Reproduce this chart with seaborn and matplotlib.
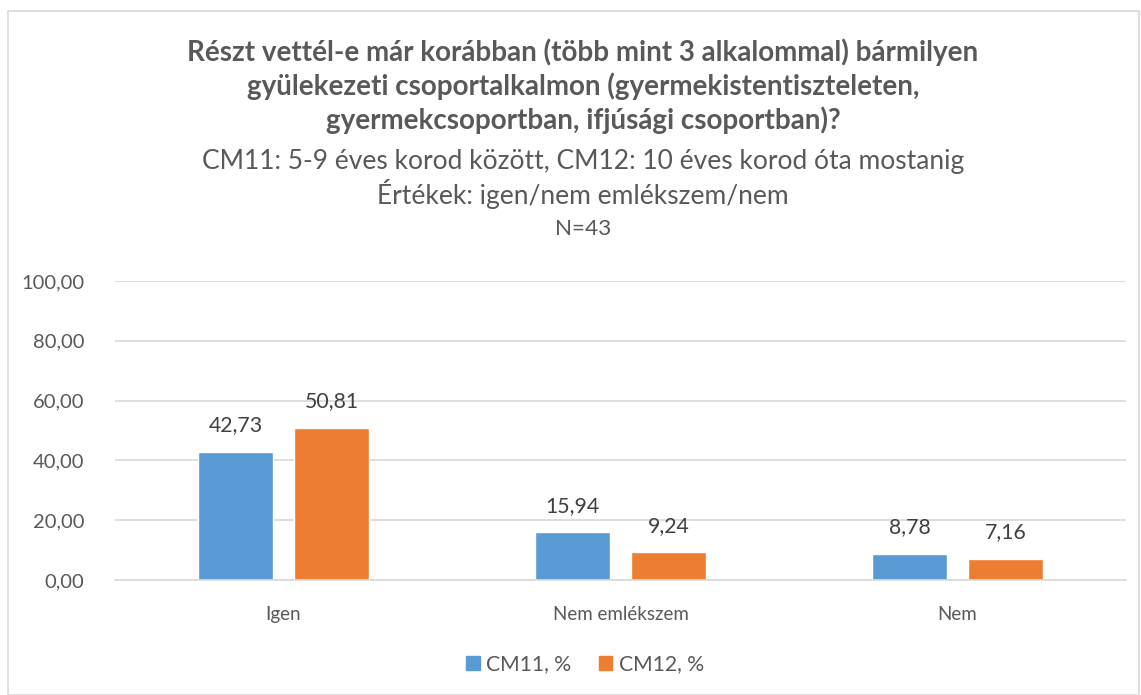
import matplotlib
matplotlib.use("Agg")
import matplotlib.pyplot as plt
import seaborn as sns
import pandas as pd
from matplotlib.patches import Rectangle

categories = ["Igen", "Nem emlékszem", "Nem"]
series_names = ["CM11, %", "CM12, %"]
cm11 = [42.73, 15.94, 8.78]
cm12 = [50.81, 9.24, 7.16]
y_ticks = [0, 20, 40, 60, 80, 100]

title_lines = [
    "Részt vettél-e már korábban (több mint 3 alkalommal) bármilyen",
    "gyülekezeti csoportalkalmon (gyermekistentiszteleten,",
    "gyermekcsoportban, ifjúsági csoportban)?",
]
subtitle_lines = [
    "CM11: 5-9 éves korod között, CM12: 10 éves korod óta mostanig",
    "Értékek: igen/nem emlékszem/nem",
    "N=43",
]

df = pd.DataFrame({
    "cat": categories * 2,
    "series": [series_names[0]] * 3 + [series_names[1]] * 3,
    "val": cm11 + cm12,
})

sns.set_theme(style="white")
plt.rcParams["font.family"] = ["Lato", "DejaVu Sans"]

W, H = 1141, 695
fig = plt.figure(figsize=(W / 100, H / 100), dpi=100)
ax = fig.add_axes([115 / W, 1 - 580 / H, (1126 - 115) / W, (580 - 281) / H])

palette = {"CM11, %": "#5B9BD5", "CM12, %": "#ED7D31"}
sns.barplot(data=df, x="cat", y="val", hue="series", palette=palette,
            width=0.569, gap=0.218, ax=ax, legend=False, saturation=1)

ax.set_ylim(0, 100)
ax.set_xlim(-0.5, 2.5)
ax.set_yticks(y_ticks)
ax.set_yticklabels([f"{v:.2f}".replace(".", ",") for v in y_ticks])
ax.yaxis.grid(True, color="#d9d9d9", linewidth=1.2)
ax.set_axisbelow(True)
for s in ["top", "right", "left"]:
    ax.spines[s].set_visible(False)
ax.spines["bottom"].set_color("#d9d9d9")
ax.spines["bottom"].set_linewidth(1.2)
ax.set_xlabel("")
ax.set_ylabel("")
ax.tick_params(axis="y", length=0, labelsize=14.5, labelcolor="#595959", pad=22)
ax.tick_params(axis="x", length=0, labelsize=13.5, labelcolor="#595959", pad=19)

for cont in ax.containers:
    ax.bar_label(cont, labels=[f"{b.get_height():.2f}".replace(".", ",") for b in cont],
                 padding=12, fontsize=15.3, color="#404040")

# title
ys = [52, 86, 120]
for t, y in zip(title_lines, ys):
    fig.text(583 / W, 1 - y / H, t, ha="center", va="center", fontsize=20,
             fontweight="bold", color="#595959")
ys2 = [161, 194, 229]
sizes = [19, 19, 16.2]
for t, y, s in zip(subtitle_lines, ys2, sizes):
    fig.text(583 / W, 1 - y / H, t, ha="center", va="center", fontsize=s,
             color="#595959")

# legend
handles = [Rectangle((0, 0), 1, 1, color=palette[n]) for n in series_names]
fig.legend(handles, series_names, loc="center", bbox_to_anchor=(585 / W, 1 - 664 / H),
           ncol=2, frameon=False, fontsize=15.2, handlelength=0.65, handleheight=0.65,
           handletextpad=0.3, columnspacing=1.3, labelcolor="#595959")

# border
fig.patches.append(Rectangle((8 / W, 0), (W - 10) / W, 1 - 11 / H, transform=fig.transFigure,
                             fill=False, edgecolor="#d9d9d9", linewidth=1.2))

fig.savefig("out.png", dpi=100)
